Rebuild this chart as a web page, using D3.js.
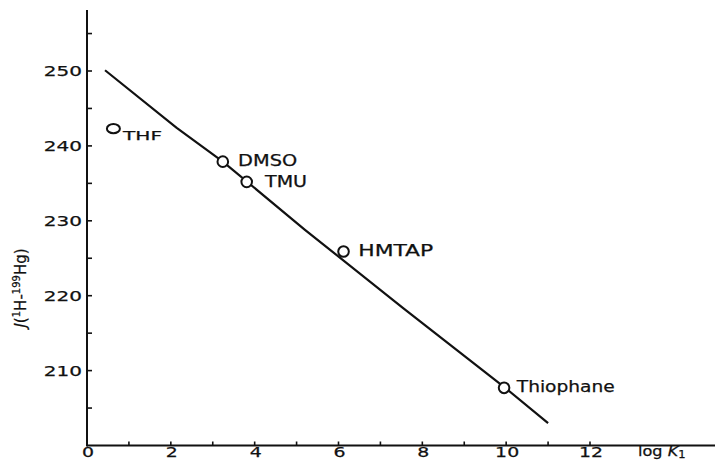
<!DOCTYPE html>
<html>
<head>
<meta charset="utf-8">
<script src="https://cdn.jsdelivr.net/npm/d3@7/dist/d3.min.js"></script>
<style>
  html, body { margin: 0; padding: 0; background: #fff; }
  svg { display: block; }
  text { font-family: "DejaVu Sans", sans-serif; fill: #111; stroke: #111; stroke-width: 0.25; }
</style>
</head>
<body>
<svg id="chart" width="715" height="461"></svg>
<script>
// ---- data ----
const solvents = ["THF", "DMSO", "TMU", "HMTAP", "Thiophane"];
const logK1 = [0.63, 3.24, 3.81, 6.12, 9.95];
const Jvalues = [242.3, 237.9, 235.2, 225.9, 207.7];

const lineLogK = [0.43, 2.14, 3.24, 5.2, 7.55, 10.0, 11.0];
const lineJ = [250.1, 242.4, 237.9, 228.8, 218.3, 207.6, 203.0];

const xTickLabels = [0, 2, 4, 6, 8, 10, 12];
const xMinorTicks = [1, 2, 3, 4, 5, 6, 7, 8, 9, 10, 11, 12];
const yTickLabels = [210, 220, 230, 240, 250];
const yMinorTicks = [205, 210, 215, 220, 225, 230, 235, 240, 245, 250, 255];

// ---- layout / style ----
const labelLayout = {
  THF:       { dx: 9.7,  dy: 11,  size: 13, width: 39 },
  DMSO:      { dx: 15.3, dy: 4.5, size: 15, width: 59 },
  TMU:       { dx: 18.3, dy: 5.3, size: 15, width: 42 },
  HMTAP:     { dx: 14.7, dy: 4.8, size: 15, width: 75 },
  Thiophane: { dx: 12.7, dy: 4,   size: 16, width: 98 }
};

const svg = d3.select("#chart");
const x = d3.scaleLinear().domain([0, 12]).range([87, 590]);
const y = d3.scaleLinear().domain([200, 250]).range([445.5, 71]);

const g = svg.append("g");

// axes lines
g.append("line").attr("x1", x(0)).attr("x2", 715).attr("y1", y(200)).attr("y2", y(200))
  .attr("stroke", "#111").attr("stroke-width", 2);
g.append("line").attr("x1", x(0)).attr("x2", x(0)).attr("y1", y(200) + 1).attr("y2", 10)
  .attr("stroke", "#111").attr("stroke-width", 2);

// x ticks (pointing up)
g.selectAll(".xt").data(xMinorTicks).enter().append("line")
  .attr("x1", d => x(d)).attr("x2", d => x(d))
  .attr("y1", y(200)).attr("y2", y(200) - 4)
  .attr("stroke", "#111").attr("stroke-width", 1.6);

// y ticks (pointing right)
g.selectAll(".yt").data(yMinorTicks).enter().append("line")
  .attr("x1", x(0)).attr("x2", x(0) + 5)
  .attr("y1", d => y(d)).attr("y2", d => y(d))
  .attr("stroke", "#111").attr("stroke-width", 1.6);

function stretch(sel, factor) {
  sel.each(function() {
    const w = this.getComputedTextLength();
    d3.select(this).attr("textLength", w * factor).attr("lengthAdjust", "spacingAndGlyphs");
  });
}

// x tick labels
const xl = g.selectAll(".xl").data(xTickLabels).enter().append("text")
  .attr("x", d => x(d) + 1).attr("y", 457)
  .attr("text-anchor", "middle").attr("font-size", 14)
  .text(d => d);
stretch(xl, 1.35);

// y tick labels
const yl = g.selectAll(".yl").data(yTickLabels).enter().append("text")
  .attr("x", 82).attr("y", d => y(d) + 5.3)
  .attr("text-anchor", "end").attr("font-size", 14.5)
  .text(d => d);
stretch(yl, 1.38);

// x axis title
const xt = g.append("text").attr("x", 638).attr("y", 456).attr("font-size", 14);
xt.append("tspan").text("log ");
xt.append("tspan").attr("font-style", "italic").text("K");
xt.append("tspan").attr("font-size", 10).attr("dy", 2).text("1");
stretch(xt, 1.15);

// y axis title
const yt = g.append("text")
  .attr("transform", "translate(26,288) rotate(-90)")
  .attr("text-anchor", "middle").attr("font-size", 15);
yt.append("tspan").attr("font-style", "italic").text("J");
yt.append("tspan").text("(");
yt.append("tspan").attr("font-size", 10).attr("dy", -6).text("1");
yt.append("tspan").attr("dy", 6).text("H-");
yt.append("tspan").attr("font-size", 10).attr("dy", -6).text("199");
yt.append("tspan").attr("dy", 6).text("Hg)");

// regression line
const lineData = lineLogK.map((v, i) => [v, lineJ[i]]);
g.append("path")
  .datum(lineData)
  .attr("d", d3.line().x(d => x(d[0])).y(d => y(d[1])))
  .attr("fill", "none").attr("stroke", "#111").attr("stroke-width", 2.2)
  .attr("stroke-linejoin", "round");

// points
const pts = solvents.map((s, i) => ({ name: s, k: logK1[i], j: Jvalues[i] }));
g.selectAll(".pt").data(pts).enter().append("ellipse")
  .attr("cx", d => x(d.k)).attr("cy", d => y(d.j))
  .attr("rx", d => d.name === "THF" ? 6.5 : 5.3)
  .attr("ry", d => d.name === "THF" ? 4.6 : 5.3)
  .attr("fill", "#fff").attr("stroke", "#111").attr("stroke-width", 2);

// point labels
g.selectAll(".pl").data(pts).enter().append("text")
  .attr("x", d => x(d.k) + labelLayout[d.name].dx)
  .attr("y", d => y(d.j) + labelLayout[d.name].dy)
  .attr("font-size", d => labelLayout[d.name].size)
  .attr("textLength", d => labelLayout[d.name].width)
  .attr("lengthAdjust", "spacingAndGlyphs")
  .text(d => d.name);
</script>
</body>
</html>
